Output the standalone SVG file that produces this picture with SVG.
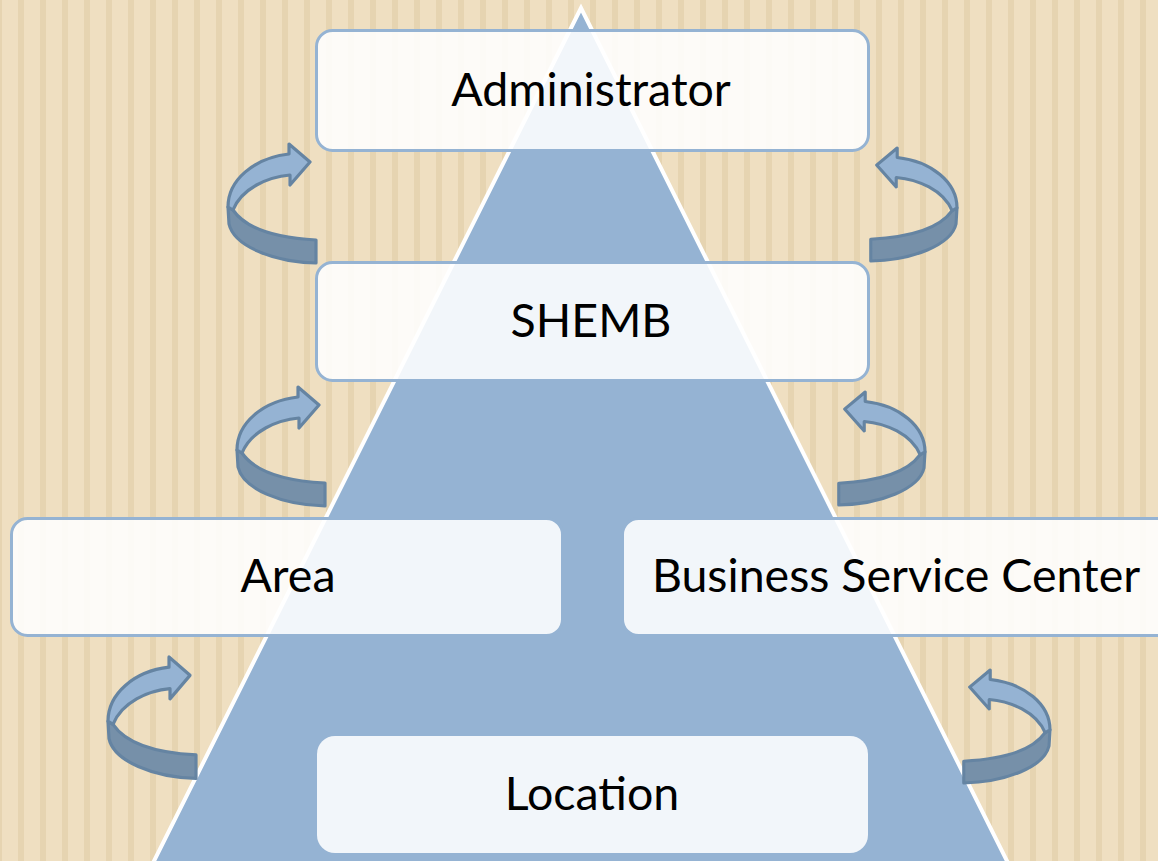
<svg xmlns="http://www.w3.org/2000/svg" width="1158" height="861" viewBox="0 0 1158 861">
  <defs>
    <pattern id="stripes" x="-4" y="0" width="22" height="861" patternUnits="userSpaceOnUse">
      <rect x="0" y="0" width="22" height="861" fill="#EFDFC1"/>
      <rect x="0" y="0" width="6" height="861" fill="#E6D4B1"/>
    </pattern>
    <!-- curved ribbon arrow; origin at its leftmost point / top barb height -->
    <g id="curl">
      <path class="dark" d="M 0,63 L 5,66 C 18,85 50,94 88,96 L 88,119 C 45,118 6,102 1,80 Z"/>
      <path class="light" d="M 0,63 C 0,36 26,14 61,10 L 61,0 L 82,18 L 62,41 L 62,31 C 40,33 14,44 5,66 Z"/>
    </g>
  </defs>
  <style>
    .light { fill: #95B3D3; stroke: #6584A2; stroke-width: 3.2; stroke-linejoin: round; }
    .dark { fill: #7690A9; stroke: #6584A2; stroke-width: 3.2; stroke-linejoin: round; }
    .box { fill: #FFFFFF; fill-opacity: 0.88; stroke: #95B3D3; stroke-width: 3; }
    .plain { fill: #FFFFFF; fill-opacity: 0.88; }
    .label { font-family: Lato, "Liberation Sans", sans-serif; font-size: 46.5px; fill: #000000; text-anchor: middle; }
  </style>

  <!-- striped backdrop -->
  <rect x="0" y="0" width="1158" height="861" fill="url(#stripes)"/>

  <!-- pyramid -->
  <g id="pyramid">
    <polygon points="581,8 153,863 1008,863" fill="#95B3D3" stroke="#FFFFFF" stroke-width="4" stroke-linejoin="miter"/>
  </g>

  <!-- connectors: curved arrows between tiers -->
  <g id="connectors">
    <use href="#curl" transform="translate(228,144)"/>
    <use href="#curl" transform="translate(237,387)"/>
    <use href="#curl" transform="translate(108,657) scale(1,1.02)"/>
    <use href="#curl" transform="translate(957,148) scale(-0.98,0.95)"/>
    <use href="#curl" transform="translate(925,392) scale(-0.98,0.95)"/>
    <use href="#curl" transform="translate(1050,670) scale(-0.98,0.95)"/>
  </g>

  <g id="administrator">
    <rect class="box" x="316.5" y="30.5" width="552" height="120" rx="16"/>
    <text class="label" x="591" y="106">Administrator</text>
  </g>

  <g id="shemb">
    <rect class="box" x="316.5" y="262.5" width="552" height="118" rx="16"/>
    <text class="label" x="591" y="337">SHEMB</text>
  </g>

  <g id="area">
    <rect class="box" x="11.5" y="518.5" width="551" height="117" rx="16"/>
    <text class="label" x="288" y="592">Area</text>
  </g>

  <g id="business-service-center">
    <rect class="box" x="622.5" y="518.5" width="560" height="117" rx="16"/>
    <text class="label" x="896" y="592">Business Service Center</text>
  </g>

  <g id="location">
    <rect class="plain" x="317" y="736" width="551" height="117" rx="18"/>
    <text class="label" x="592" y="810">Location</text>
  </g>
</svg>
